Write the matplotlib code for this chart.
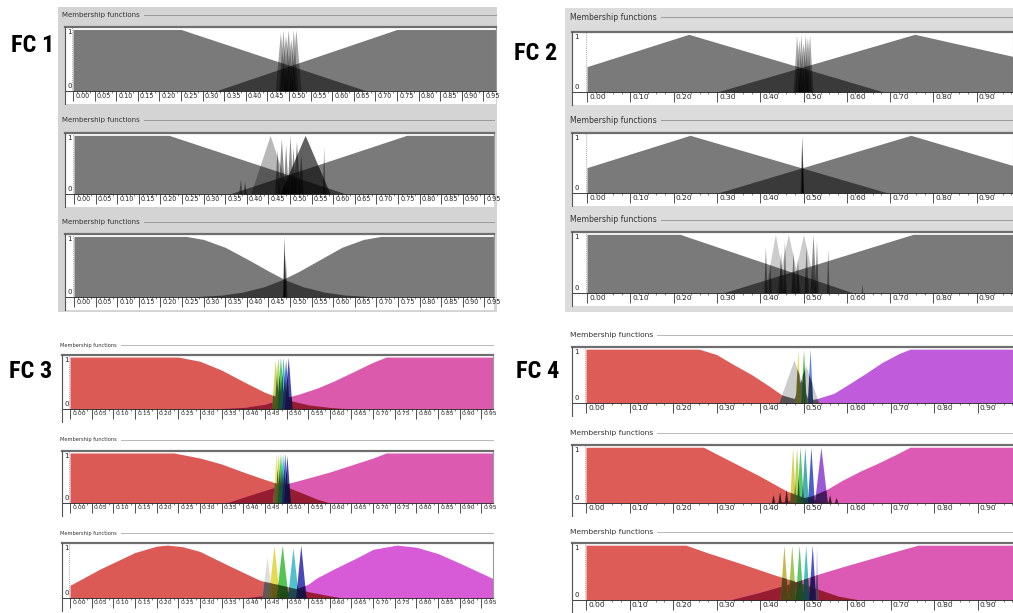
import numpy as np
import matplotlib
matplotlib.use("Agg")
import matplotlib.pyplot as plt
from matplotlib.patches import Rectangle
from matplotlib.lines import Line2D
from matplotlib.transforms import ScaledTranslation

# membership functions (x in 0..1, membership 0..1)

# FC 1 (grey, three panels)
fc1a_low = ([0, 0.25, 0.68, 1.0], [1, 1, 0, 0])
fc1a_high = ([0, 0.33, 0.75, 1.0], [0, 0, 1, 1])
fc1a_pk_c = [0.480, 0.486, 0.492, 0.498, 0.504, 0.510, 0.516]
fc1a_pk_w = [0.012, 0.010, 0.014, 0.011, 0.013, 0.010, 0.012]
fc1a_pk_h = [0.95, 1.0, 0.90, 1.0, 0.85, 1.0, 1.0]

fc1b_low = ([0, 0.22, 0.63, 1.0], [1, 1, 0, 0])
fc1b_high = ([0, 0.36, 0.77, 1.0], [0, 0, 1, 1])
fc1b_pk_c = [0.454, 0.535, 0.385, 0.395, 0.470, 0.480, 0.490, 0.500, 0.507, 0.515, 0.525, 0.578]
fc1b_pk_w = [0.045, 0.058, 0.004, 0.004, 0.006, 0.008, 0.006, 0.007, 0.006, 0.008, 0.006, 0.003]
fc1b_pk_h = [1.0, 1.0, 0.25, 0.22, 0.75, 0.95, 0.85, 1.0, 0.80, 0.90, 0.70, 0.80]

fc1c_low = ([0, 0.26, 0.30, 0.35, 0.40, 0.45, 0.49, 0.53, 0.58, 0.63, 0.68, 0.72, 1.0],
            [1, 1, 0.95, 0.82, 0.63, 0.43, 0.28, 0.17, 0.08, 0.03, 0.01, 0, 0])
fc1c_high = ([0, 0.25, 0.29, 0.34, 0.39, 0.44, 0.48, 0.52, 0.57, 0.62, 0.67, 0.71, 1.0],
             [0, 0, 0.01, 0.03, 0.08, 0.17, 0.28, 0.42, 0.62, 0.82, 0.95, 1, 1])
fc1c_pk_c = [0.486, 0.489]
fc1c_pk_w = [0.003, 0.004]
fc1c_pk_h = [1.0, 0.7]

# FC 2 (grey, three panels)
fc2a_low = ([0, 0.235, 0.685, 1.0], [0.44, 1, 0, 0])
fc2a_high = ([0, 0.30, 0.757, 1.0], [0, 0, 1, 0.59])
fc2a_pk_c = [0.484, 0.489, 0.494, 0.499, 0.504, 0.509, 0.514]
fc2a_pk_w = [0.008, 0.010, 0.008, 0.012, 0.009, 0.010, 0.008]
fc2a_pk_h = [1.0, 0.90, 1.0, 0.85, 1.0, 0.95, 1.0]

fc2b_low = ([0, 0.238, 0.695, 1.0], [0.44, 1, 0, 0])
fc2b_high = ([0, 0.302, 0.748, 1.0], [0, 0, 1, 0.44])
fc2b_pk_c = [0.496, 0.497]
fc2b_pk_w = [0.004, 0.002]
fc2b_pk_h = [1.0, 0.85]

fc2c_low = ([0, 0.215, 0.615, 1.0], [1, 1, 0, 0])
fc2c_high = ([0, 0.314, 0.753, 1.0], [0, 0, 1, 1])
fc2c_pk_c = [0.435, 0.465, 0.500, 0.412, 0.422, 0.447, 0.456, 0.476, 0.486, 0.506, 0.522, 0.530, 0.556, 0.635]
fc2c_pk_w = [0.025, 0.030, 0.030, 0.004, 0.004, 0.005, 0.004, 0.005, 0.004, 0.005, 0.007, 0.004, 0.003, 0.002]
fc2c_pk_h = [1.0, 1.0, 1.0, 0.80, 0.50, 0.70, 0.90, 0.70, 0.60, 0.80, 1.0, 0.90, 0.75, 0.15]

# FC 3 (colour, three panels)
fc3a_low = ([0, 0.25, 0.30, 0.35, 0.40, 0.45, 0.49, 0.55, 0.60, 0.65, 1.0],
            [1, 1, 0.92, 0.75, 0.53, 0.32, 0.20, 0.08, 0.03, 0, 0])
fc3a_high = ([0, 0.33, 0.40, 0.45, 0.49, 0.53, 0.57, 0.61, 0.65, 0.70, 0.73, 1.0],
             [0, 0, 0.03, 0.09, 0.20, 0.29, 0.40, 0.54, 0.70, 0.90, 1, 1])
fc3a_pk_c = [0.474, 0.480, 0.486, 0.492, 0.498, 0.504]
fc3a_pk_w = [0.009, 0.009, 0.009, 0.009, 0.009, 0.009]
fc3a_pk_h = [0.95, 1.0, 1.0, 1.0, 0.95, 1.0]

fc3b_low = ([0, 0.24, 0.30, 0.35, 0.40, 0.45, 0.49, 0.53, 0.57, 0.60, 1.0],
            [1, 1, 0.90, 0.78, 0.62, 0.47, 0.36, 0.22, 0.08, 0, 0])
fc3b_high = ([0, 0.36, 0.42, 0.49, 0.55, 0.60, 0.65, 0.70, 0.73, 1.0],
             [0, 0, 0.17, 0.36, 0.50, 0.62, 0.76, 0.90, 1, 1])
fc3b_pk_c = [0.476, 0.481, 0.486, 0.491, 0.496, 0.501]
fc3b_pk_w = [0.008, 0.008, 0.008, 0.008, 0.008, 0.008]
fc3b_pk_h = [1.0, 1.0, 1.0, 1.0, 1.0, 0.95]

fc3c_low = ([0, 0.07, 0.15, 0.20, 0.225, 0.26, 0.30, 0.37, 0.44, 0.50, 0.55, 0.60, 0.63, 1.0],
            [0.24, 0.55, 0.86, 0.98, 1, 0.97, 0.88, 0.60, 0.33, 0.22, 0.12, 0.04, 0, 0])
fc3c_high = ([0, 0.40, 0.46, 0.51, 0.55, 0.57, 0.61, 0.66, 0.70, 0.755, 0.80, 0.85, 0.90, 0.95, 1.0],
             [0, 0, 0.06, 0.14, 0.26, 0.38, 0.55, 0.75, 0.92, 1, 0.96, 0.84, 0.66, 0.47, 0.28])
fc3c_pk_c = [0.455, 0.471, 0.490, 0.515, 0.533]
fc3c_pk_w = [0.012, 0.013, 0.014, 0.013, 0.012]
fc3c_pk_h = [0.78, 1.0, 1.0, 0.95, 1.0]

# FC 4 (colour, three panels)
fc4a_low = ([0, 0.26, 0.30, 0.34, 0.38, 0.42, 0.45, 0.48, 0.52, 0.55, 1.0],
            [1, 1, 0.90, 0.71, 0.53, 0.32, 0.15, 0.08, 0.03, 0, 0])
fc4a_high = ([0, 0.45, 0.50, 0.53, 0.57, 0.61, 0.645, 0.68, 0.72, 0.745, 1.0],
             [0, 0, 0.04, 0.08, 0.18, 0.38, 0.56, 0.75, 0.92, 1, 1])
fc4a_pk_c = [0.478, 0.505, 0.487, 0.500, 0.515]
fc4a_pk_w = [0.035, 0.030, 0.006, 0.006, 0.006]
fc4a_pk_h = [0.80, 0.70, 1.0, 1.0, 1.0]

fc4b_low = ([0, 0.27, 0.32, 0.36, 0.40, 0.43, 0.46, 0.50, 0.54, 0.57, 1.0],
            [1, 1, 0.80, 0.64, 0.48, 0.35, 0.22, 0.10, 0.04, 0, 0])
fc4b_high = ([0, 0.43, 0.48, 0.52, 0.555, 0.59, 0.63, 0.67, 0.71, 0.745, 1.0],
             [0, 0, 0.06, 0.13, 0.25, 0.41, 0.57, 0.71, 0.86, 1, 1])
fc4b_pk_c = [0.475, 0.484, 0.492, 0.503, 0.517, 0.540, 0.430, 0.445, 0.460, 0.560, 0.575]
fc4b_pk_w = [0.007, 0.007, 0.008, 0.008, 0.008, 0.015, 0.004, 0.004, 0.004, 0.004, 0.004]
fc4b_pk_h = [1.0, 1.0, 1.0, 1.0, 1.0, 1.0, 0.15, 0.20, 0.25, 0.15, 0.10]

fc4c_low = ([0, 0.23, 0.28, 0.354, 0.44, 0.49, 0.54, 0.58, 0.63, 1.0],
            [1, 1, 0.86, 0.67, 0.44, 0.32, 0.18, 0.07, 0, 0])
fc4c_high = ([0, 0.33, 0.40, 0.47, 0.533, 0.60, 0.653, 0.70, 0.763, 1.0],
             [0, 0, 0.14, 0.30, 0.47, 0.63, 0.75, 0.86, 1, 1])
fc4c_pk_c = [0.455, 0.473, 0.490, 0.505, 0.520, 0.530]
fc4c_pk_w = [0.009, 0.009, 0.009, 0.008, 0.008, 0.003]
fc4c_pk_h = [1.0, 1.0, 1.0, 1.0, 1.0, 1.0]

# styles (shade = alpha of black for grey panels, colour for colour panels)
fc1a_pk_style = [0.35] * 7
fc1b_pk_style = [0.28, 0.62] + [0.45] * 10
fc1c_pk_style = [0.8, 0.5]
fc2a_pk_style = [0.35] * 7
fc2b_pk_style = [0.5, 0.8]
fc2c_pk_style = [0.2, 0.2, 0.2] + [0.45] * 11
fc3a_pk_style = ['#bcd24a', '#9ccf45', '#3fb64a', '#2fb2b0', '#3e52d0', '#2a2a9a']
fc3b_pk_style = ['#e8e070', '#b8d040', '#3cbc44', '#2ab4c0', '#3a4ad0', '#26268e']
fc3c_pk_style = ['#d8d8d8', '#e0d432', '#32bc32', '#32b8c3', '#2828aa']
fc4a_pk_style = ['#c4c4c4', '#c4c4c4', '#dcdc3c', '#3caa3c', '#3c6edc']
fc4b_pk_style = ['#d7c83c', '#aac83c', '#3cbe50', '#28a0a0', '#2846be', '#8a3cd2',
                 '#8a3a48', '#8a3a48', '#8a3a48', '#8a3a48', '#8a3a48']
fc4c_pk_style = ['#beaa32', '#96be32', '#3cbe50', '#28b4be', '#3232be', '#c8a0f0']

W, H = 1013, 613
fig = plt.figure(figsize=(W / 100, H / 100), dpi=100)

# group backgrounds (FC1 and FC2 are grey dialog boxes)
fig.add_artist(Rectangle((58 / W, 1 - 312 / H), (497 - 58) / W, (312 - 7) / H,
                         transform=fig.transFigure, color='#d4d4d4', zorder=-3, lw=0))
fig.add_artist(Rectangle((565 / W, 1 - 312 / H), (1013 - 565) / W, (312 - 8) / H,
                         transform=fig.transFigure, color='#dcdcdc', zorder=-3, lw=0))

# panel layout in pixels: box left, box right, top, baseline, x of 0, px per unit
panels = [
    # FC 1
    dict(low=fc1a_low, high=fc1a_high, pk=(fc1a_pk_c, fc1a_pk_w, fc1a_pk_h), sty=fc1a_pk_style,
         box=(65, 496, 27, 91, 73, 432), title=15, col='grey', grp='fc1'),
    dict(low=fc1b_low, high=fc1b_high, pk=(fc1b_pk_c, fc1b_pk_w, fc1b_pk_h), sty=fc1b_pk_style,
         box=(65, 494, 133, 194, 74, 432), title=120, col='grey', grp='fc1'),
    dict(low=fc1c_low, high=fc1c_high, pk=(fc1c_pk_c, fc1c_pk_w, fc1c_pk_h), sty=fc1c_pk_style,
         box=(65, 494, 234, 297, 74, 432), title=222, col='grey', grp='fc1'),
    # FC 2
    dict(low=fc2a_low, high=fc2a_high, pk=(fc2a_pk_c, fc2a_pk_w, fc2a_pk_h), sty=fc2a_pk_style,
         box=(572, 1013, 32, 92, 587, 433), title=17, col='grey', grp='fc2'),
    dict(low=fc2b_low, high=fc2b_high, pk=(fc2b_pk_c, fc2b_pk_w, fc2b_pk_h), sty=fc2b_pk_style,
         box=(572, 1013, 133, 193, 587, 433), title=120, col='grey', grp='fc2'),
    dict(low=fc2c_low, high=fc2c_high, pk=(fc2c_pk_c, fc2c_pk_w, fc2c_pk_h), sty=fc2c_pk_style,
         box=(572, 1013, 232, 293, 587, 433), title=220, col='grey', grp='fc2'),
    # FC 3
    dict(low=fc3a_low, high=fc3a_high, pk=(fc3a_pk_c, fc3a_pk_w, fc3a_pk_h), sty=fc3a_pk_style,
         box=(62, 493, 355, 409, 70, 433), title=345, col=('#dc5a55', '#dc5aac'), grp='fc3'),
    dict(low=fc3b_low, high=fc3b_high, pk=(fc3b_pk_c, fc3b_pk_w, fc3b_pk_h), sty=fc3b_pk_style,
         box=(62, 493, 451, 503, 70, 433), title=440, col=('#dc5a55', '#dc5ab0'), grp='fc3'),
    dict(low=fc3c_low, high=fc3c_high, pk=(fc3c_pk_c, fc3c_pk_w, fc3c_pk_h), sty=fc3c_pk_style,
         box=(62, 493, 543, 598, 70, 433), title=533, col=('#dc5a55', '#d75ad7'), grp='fc3'),
    # FC 4
    dict(low=fc4a_low, high=fc4a_high, pk=(fc4a_pk_c, fc4a_pk_w, fc4a_pk_h), sty=fc4a_pk_style,
         box=(572, 1013, 347, 403, 586, 435), title=335, col=('#dd5c58', '#c05cdc'), grp='fc4'),
    dict(low=fc4b_low, high=fc4b_high, pk=(fc4b_pk_c, fc4b_pk_w, fc4b_pk_h), sty=fc4b_pk_style,
         box=(572, 1013, 445, 503, 586, 435), title=433, col=('#dd5c58', '#dc5ab4'), grp='fc4'),
    dict(low=fc4c_low, high=fc4c_high, pk=(fc4c_pk_c, fc4c_pk_w, fc4c_pk_h), sty=fc4c_pk_style,
         box=(572, 1013, 543, 600, 586, 435), title=532, col=('#dd5c58', '#dc5ab4'), grp='fc4'),
]

group_fmt = {
    'fc1': dict(step=0.05, minor=0.01, lab=4.7, tfs=5.0, tx=62, line='#9a9a9a'),
    'fc2': dict(step=0.10, minor=0.02, lab=5.4, tfs=5.6, tx=570, line='#9a9a9a'),
    'fc3': dict(step=0.05, minor=0.01, lab=4.4, tfs=3.7, tx=60, line='#b8b8b8'),
    'fc4': dict(step=0.10, minor=0.02, lab=5.4, tfs=5.4, tx=570, line='#b8b8b8'),
}

titles = []
for p in panels:
    left, right, top, base, x0, ppu = p['box']
    g = group_fmt[p['grp']]
    ax = fig.add_axes([left / W, 1 - base / H, (right - left) / W, (base - top) / H])
    xmin, xmax = (left - x0) / ppu, (right - x0) / ppu
    ax.set_xlim(xmin, xmax)
    ax.set_ylim(0, 1.04)
    ax.set_facecolor('white')

    pk_c, pk_w, pk_h = p['pk']
    if p['col'] == 'grey':
        for mx, my in (p['low'], p['high']):
            ax.fill_between(mx, my, color='black', alpha=0.52, lw=0)
        for c, w, h, a in zip(pk_c, pk_w, pk_h, p['sty']):
            ax.fill_between([c - w, c, c + w], [0, h, 0], color='black', alpha=a, lw=0)
    else:
        c_low, c_high = p['col']
        xs = np.linspace(0, xmax, 3000)
        ax.fill_between(*p['low'], color=c_low, lw=0)
        ax.fill_between(*p['high'], color=c_high, lw=0)
        lo = np.interp(xs, *p['low'])
        hi = np.interp(xs, *p['high'])
        ax.fill_between(xs, np.minimum(lo, hi), color='#961c32', lw=0)
        layers = [np.maximum(lo, hi)]
        for c, w, h, col in zip(pk_c, pk_w, pk_h, p['sty']):
            ax.fill_between([c - w, c, c + w], [0, h, 0], color=col, alpha=0.85, lw=0)
            layers.append(np.interp(xs, [c - w, c, c + w], [0, h, 0]))
        second = np.sort(np.vstack(layers), axis=0)[-2]
        ax.fill_between(xs, second, color='black', alpha=0.55, lw=0)

    # y axis marker and labels
    ax.axvline(-0.003, color='#8a8a8a', lw=0.6, ls=(0, (1, 1.5)))
    ax.text(xmin + 2 / ppu, 1.0, '1', fontsize=5, va='top', ha='left', color='#222')
    ax.text(xmin + 2 / ppu, 0.03, '0', fontsize=5, va='bottom', ha='left', color='#222')

    # x axis
    ticks = np.arange(0, xmax - 0.015, g['step'])
    ax.set_xticks(ticks)
    ax.set_xticklabels([f"{t:.2f}" for t in ticks])
    ax.set_xticks(np.arange(0, xmax, g['minor']), minor=True)
    ax.set_yticks([])
    ax.tick_params(axis='x', which='major', direction='out', length=7, width=0.6,
                   color='#333', labelsize=g['lab'], pad=-5.6, labelcolor='#222')
    ax.tick_params(axis='x', which='minor', direction='out', length=1.2, width=0.5, color='#444')
    shift = ScaledTranslation(1.6 / 72, 0, fig.dpi_scale_trans)
    for lab in ax.get_xticklabels():
        lab.set_ha('left')
        lab.set_transform(lab.get_transform() + shift)

    ax.spines['top'].set_color('#6e6e6e')
    ax.spines['top'].set_linewidth(1.6)
    for s in ('left', 'right'):
        ax.spines[s].set_color('#9a9a9a')
        ax.spines[s].set_linewidth(0.8)
    ax.spines['bottom'].set_color('#222')
    ax.spines['bottom'].set_linewidth(0.6)

    # white strip under the axis and the left bracket
    fig.add_artist(Rectangle((left / W, 1 - (base + 13) / H), (right - left) / W, 13 / H,
                             transform=fig.transFigure, color='white', zorder=-1, lw=0))
    fig.add_artist(Line2D([left / W, left / W], [1 - top / H, 1 - (base + 13) / H],
                          transform=fig.transFigure, color='#555', lw=0.8))

    t = fig.text(g['tx'] / W, 1 - p['title'] / H, 'Membership functions', fontsize=g['tfs'],
                 va='center', ha='left', color='#333')
    titles.append((t, p['title'], right, g['line']))

# group labels (condensed bold)
label_font = ['Roboto Condensed', 'Liberation Sans Narrow', 'DejaVu Sans']
for txt, lx, ly in [('FC 1', 11, 46), ('FC 2', 514, 54), ('FC 3', 9, 372), ('FC 4', 516, 372)]:
    fig.text(lx / W, 1 - ly / H, txt, fontsize=17.5, fontweight='bold', family=label_font,
             fontstretch='condensed', va='center', ha='left')

# title rules running to the right of each "Membership functions"
fig.canvas.draw()
renderer = fig.canvas.get_renderer()
for t, ty, right, col in titles:
    bb = t.get_window_extent(renderer)
    x_start = bb.x1 + 4
    fig.add_artist(Line2D([x_start / W, right / W], [1 - ty / H, 1 - ty / H],
                          transform=fig.transFigure, color=col, lw=0.7))

fig.savefig('out.png', dpi=100)
